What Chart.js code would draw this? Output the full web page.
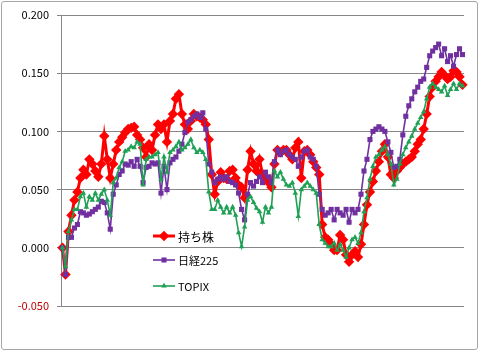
<!DOCTYPE html>
<html>
<head>
<meta charset="utf-8">
<script src="https://cdn.jsdelivr.net/npm/chart.js@4.4.1/dist/chart.umd.min.js"></script>
<style>
  html, body { margin: 0; padding: 0; background: #fff; }
  #wrap { position: relative; width: 480px; height: 352px; }
  #frame { position: absolute; left: 1px; top: 1px; width: 475px; height: 347px;
           border: 1px solid #a6a6a6; border-radius: 3px; pointer-events: none; }
</style>
</head>
<body>
<div id="wrap">
  <canvas id="stockChart" width="480" height="352"></canvas>
  <div id="frame"></div>
</div>
<script>
const seriesNames = ["持ち株", "日経225", "TOPIX"];

const holdings = [
  0.000, -0.023, 0.014, 0.028, 0.041, 0.048, 0.060, 0.067, 0.063, 0.076,
  0.072, 0.066, 0.061, 0.072, 0.096, 0.076, 0.060, 0.072, 0.084, 0.091,
  0.095, 0.099, 0.102, 0.103, 0.104, 0.097, 0.093, 0.086, 0.078, 0.089,
  0.084, 0.097, 0.106, 0.102, 0.106, 0.091, 0.109, 0.115, 0.128, 0.132,
  0.115, 0.106, 0.102, 0.109, 0.115, 0.113, 0.112, 0.110, 0.106, 0.093,
  0.063, 0.046, 0.057, 0.065, 0.060, 0.059, 0.066, 0.067, 0.060, 0.054,
  0.052, 0.043, 0.067, 0.083, 0.072, 0.066, 0.076, 0.063, 0.059, 0.056,
  0.052, 0.072, 0.084, 0.082, 0.084, 0.084, 0.080, 0.076, 0.086, 0.091,
  0.060, 0.083, 0.084, 0.080, 0.074, 0.069, 0.063, 0.020, 0.009, 0.007,
  0.003, -0.002, -0.002, 0.011, 0.007, -0.006, -0.012, -0.006, -0.003, -0.008,
  0.003, 0.020, 0.037, 0.048, 0.057, 0.066, 0.074, 0.083, 0.089, 0.078,
  0.063, 0.060, 0.066, 0.069, 0.072, 0.074, 0.076, 0.078, 0.083, 0.089,
  0.093, 0.102, 0.115, 0.130, 0.138, 0.143, 0.147, 0.151, 0.148, 0.145,
  0.147, 0.152, 0.151, 0.147, 0.140
];

const nikkei = [
  0.000, -0.023, 0.009, 0.009, 0.017, 0.020, 0.031, 0.030, 0.028, 0.029,
  0.031, 0.033, 0.035, 0.040, 0.039, 0.030, 0.016, 0.046, 0.054, 0.063,
  0.066, 0.072, 0.071, 0.074, 0.070, 0.076, 0.070, 0.056, 0.069, 0.070,
  0.073, 0.072, 0.073, 0.047, 0.070, 0.050, 0.073, 0.076, 0.078, 0.083,
  0.089, 0.099, 0.108, 0.110, 0.113, 0.115, 0.112, 0.116, 0.102, 0.072,
  0.065, 0.056, 0.059, 0.061, 0.059, 0.061, 0.057, 0.056, 0.054, 0.047,
  0.033, 0.024, 0.046, 0.056, 0.053, 0.057, 0.061, 0.056, 0.065, 0.061,
  0.056, 0.074, 0.084, 0.080, 0.083, 0.084, 0.080, 0.078, 0.076, 0.070,
  0.078, 0.083, 0.084, 0.078, 0.076, 0.070, 0.046, 0.033, 0.028, 0.030,
  0.033, 0.024, 0.033, 0.030, 0.028, 0.033, 0.022, 0.033, 0.030, 0.033,
  0.046, 0.066, 0.076, 0.093, 0.100, 0.102, 0.104, 0.102, 0.100, 0.091,
  0.082, 0.069, 0.070, 0.076, 0.097, 0.113, 0.122, 0.128, 0.134, 0.138,
  0.143, 0.145, 0.155, 0.165, 0.169, 0.172, 0.175, 0.165, 0.171, 0.160,
  0.165, 0.156, 0.166, 0.171, 0.166
];

const topix = [
  0.000, -0.016, 0.014, 0.024, 0.033, 0.033, 0.044, 0.047, 0.035, 0.044,
  0.041, 0.047, 0.041, 0.046, 0.050, 0.041, 0.028, 0.056, 0.060, 0.069,
  0.074, 0.083, 0.084, 0.087, 0.086, 0.091, 0.089, 0.054, 0.076, 0.078,
  0.078, 0.080, 0.082, 0.059, 0.078, 0.065, 0.082, 0.084, 0.087, 0.091,
  0.084, 0.086, 0.089, 0.093, 0.086, 0.082, 0.084, 0.082, 0.076, 0.048,
  0.033, 0.033, 0.041, 0.035, 0.030, 0.035, 0.030, 0.035, 0.028, 0.013,
  0.001, 0.018, 0.041, 0.044, 0.039, 0.034, 0.031, 0.022, 0.035, 0.030,
  0.035, 0.066, 0.061, 0.065, 0.059, 0.054, 0.053, 0.056, 0.047, 0.027,
  0.050, 0.053, 0.056, 0.053, 0.050, 0.047, 0.020, 0.007, 0.004, 0.001,
  0.001, 0.004, -0.002, 0.003, -0.002, -0.008, 0.000, 0.007, 0.009, 0.004,
  0.013, 0.031, 0.043, 0.059, 0.070, 0.078, 0.080, 0.084, 0.087, 0.080,
  0.072, 0.054, 0.059, 0.072, 0.080, 0.086, 0.091, 0.096, 0.102, 0.107,
  0.112, 0.117, 0.128, 0.138, 0.141, 0.138, 0.136, 0.134, 0.139, 0.131,
  0.136, 0.141, 0.136, 0.141, 0.139
];

const yTicks = [-0.05, 0, 0.05, 0.1, 0.15, 0.2];

// hidden category axis (trading days)
const days = holdings.map((v, i) => i + 1);

const colors = ["#ff0000", "#7030a0", "#1fa055"];
const FONT = "'Noto Sans CJK JP', 'Noto Sans', sans-serif";

// legend sits inside the plot like the Excel original
const innerLegend = {
  id: 'innerLegend',
  afterDraw(chart) {
    const ctx = chart.ctx;
    const area = chart.chartArea;
    const x0 = area.left + 92;
    const rows = [area.top + 221, area.top + 245, area.top + 271];
    ctx.save();
    chart.data.datasets.forEach((ds, i) => {
      const y = rows[i];
      ctx.strokeStyle = ds.borderColor;
      ctx.lineWidth = ds.borderWidth;
      ctx.beginPath();
      ctx.moveTo(x0, y);
      ctx.lineTo(x0 + 22, y);
      ctx.stroke();
      ctx.fillStyle = ds.borderColor;
      const cx = x0 + 11, r = ds.pointRadius;
      ctx.beginPath();
      if (ds.pointStyle === 'rectRot') {
        ctx.moveTo(cx, y - r); ctx.lineTo(cx + r, y); ctx.lineTo(cx, y + r); ctx.lineTo(cx - r, y);
      } else if (ds.pointStyle === 'rect') {
        const s = r * Math.SQRT1_2;
        ctx.rect(cx - s, y - s, 2 * s, 2 * s);
      } else {
        ctx.moveTo(cx, y - r); ctx.lineTo(cx + r * 0.87, y + r * 0.5); ctx.lineTo(cx - r * 0.87, y + r * 0.5);
      }
      ctx.closePath();
      ctx.fill();
      ctx.fillStyle = '#000';
      ctx.font = (i === 0 ? '12px ' : '11px ') + FONT;
      ctx.textBaseline = 'middle';
      ctx.textAlign = 'left';
      ctx.fillText(ds.label, x0 + 25, y + 1);
    });
    ctx.restore();
  }
};

new Chart("stockChart", {
  type: "line",
  data: {
    labels: days,
    datasets: [
      {
        label: seriesNames[0], data: holdings, order: 3,
        borderColor: colors[0], backgroundColor: colors[0], borderWidth: 3,
        pointStyle: 'rectRot', pointRadius: 5.2, pointBorderWidth: 0
      },
      {
        label: seriesNames[1], data: nikkei, order: 2,
        borderColor: colors[1], backgroundColor: colors[1], borderWidth: 1.6,
        pointStyle: 'rect', pointRadius: 3.6, pointBorderWidth: 0
      },
      {
        label: seriesNames[2], data: topix, order: 1,
        borderColor: colors[2], backgroundColor: colors[2], borderWidth: 1.6,
        pointStyle: 'triangle', pointRadius: 3.2, pointBorderWidth: 0
      }
    ]
  },
  options: {
    responsive: false,
    animation: false,
    layout: { padding: { left: 0, right: 16, top: 15, bottom: 46 } },
    plugins: { legend: { display: false }, tooltip: { enabled: false } },
    elements: { line: { tension: 0 } },
    scales: {
      x: { display: false, offset: true },
      y: {
        min: -0.05, max: 0.2,
        afterBuildTicks: (s) => { s.ticks = yTicks.map(v => ({ value: v })); },
        afterFit: (s) => { s.width = 61; },
        border: { color: '#868686', width: 1 },
        grid: { color: '#868686', lineWidth: 1, tickLength: 4 },
        ticks: {
          padding: 8,
          font: { family: FONT, size: 11 },
          color: (c) => c.tick.value < 0 ? '#c00000' : '#000',
          callback: (v) => v.toFixed(3)
        }
      }
    }
  },
  plugins: [innerLegend]
});
</script>
</body>
</html>
